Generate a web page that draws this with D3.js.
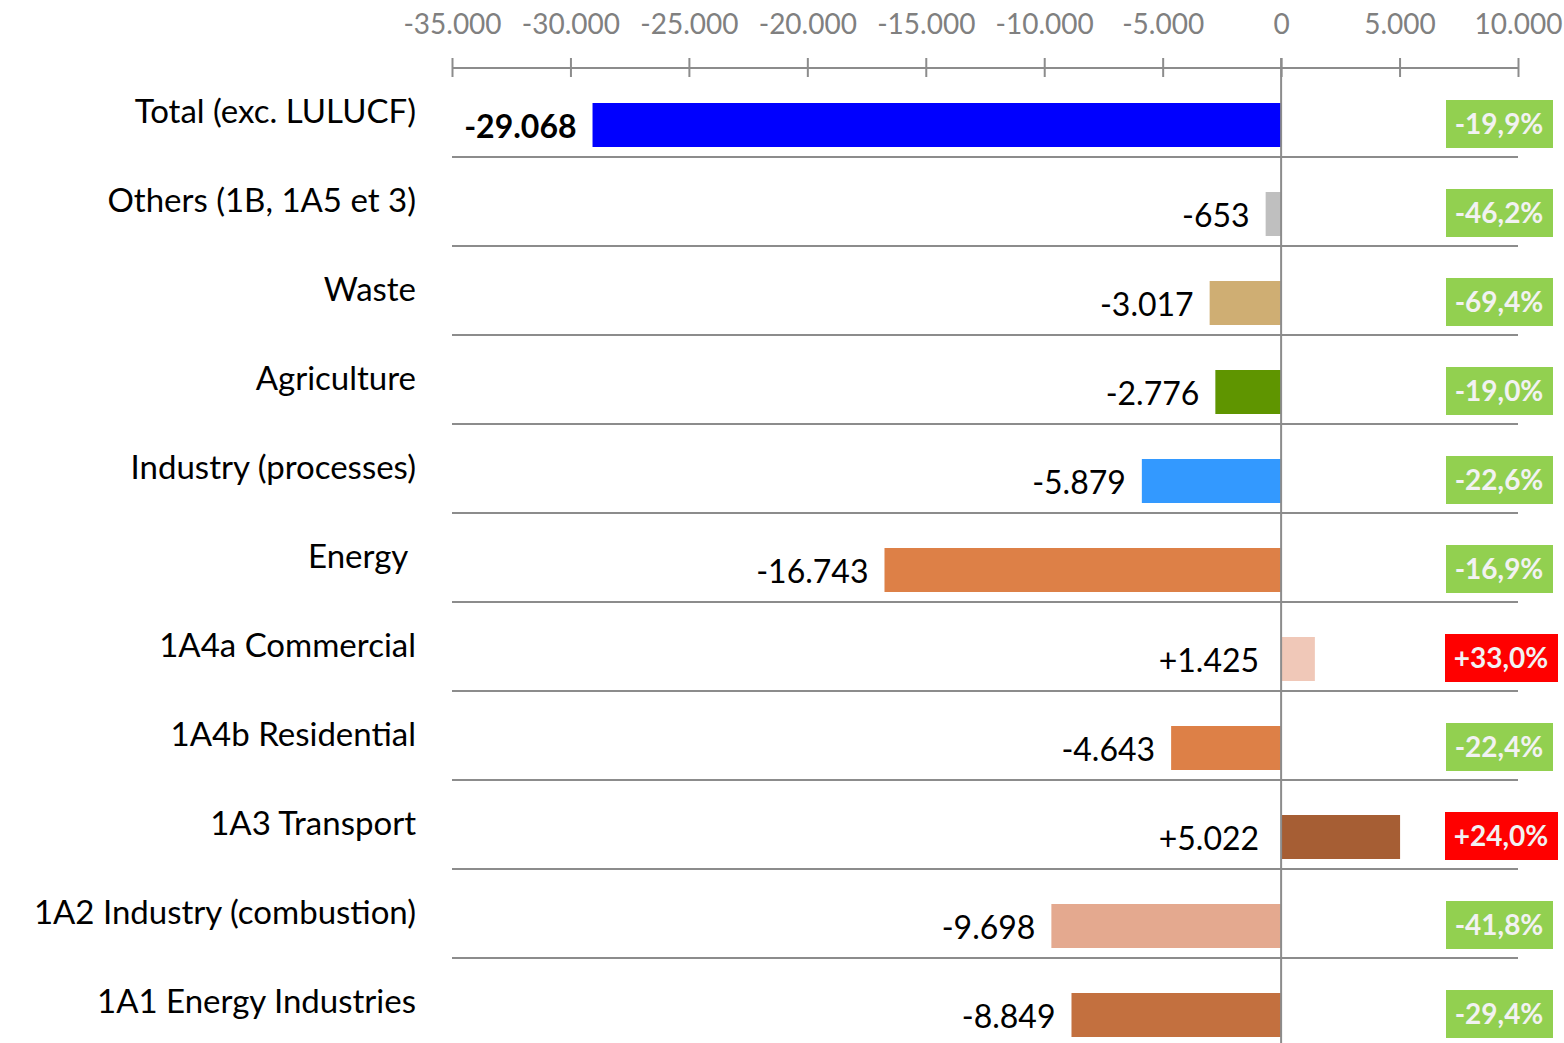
<!DOCTYPE html>
<html>
<head>
<meta charset="utf-8">
<script src="https://cdn.jsdelivr.net/npm/d3@7"></script>
<style>
  body { margin: 0; background: #fff; }
  svg text { font-family: Lato, "Open Sans", sans-serif; }
</style>
</head>
<body>
<div id="chart"></div>
<script>
// chart data
var categories = ["Total (exc. LULUCF)", "Others (1B, 1A5 et 3)", "Waste", "Agriculture",
  "Industry (processes)", "Energy ", "1A4a Commercial", "1A4b Residential",
  "1A3 Transport", "1A2 Industry (combustion)", "1A1 Energy Industries"];
var values = [-29068, -653, -3017, -2776, -5879, -16743, 1425, -4643, 5022, -9698, -8849];
var pctLabels = ["-19,9%", "-46,2%", "-69,4%", "-19,0%", "-22,6%", "-16,9%", "+33,0%",
  "-22,4%", "+24,0%", "-41,8%", "-29,4%"];
var barColors = ["#0000ff", "#bfbfbf", "#cfae73", "#5f9500", "#3399ff", "#dd8047",
  "#f0c8b8", "#dd8047", "#a65e34", "#e4a98f", "#c3703f"];
var xTicks = [-35000, -30000, -25000, -20000, -15000, -10000, -5000, 0, 5000, 10000];

var width = 1564, height = 1043;

var locale = d3.formatLocale({decimal: ",", thousands: ".", grouping: [3], currency: ["", "€"], minus: "-"});
var fmtTick = locale.format(",d");
var fmtVal = locale.format("+,d");

var x = d3.scaleLinear().domain([-35000, 10000]).range([452, 1518]);
var y = d3.scaleBand().domain(d3.range(categories.length)).range([68, 68 + 89 * categories.length]);

var svg = d3.select("#chart").append("svg")
  .attr("width", width)
  .attr("height", height);

// top axis
var xAxis = d3.axisTop(x).tickValues(xTicks).tickFormat(fmtTick).tickSize(10);
var ax = svg.append("g")
  .attr("transform", "translate(0,68)")
  .call(xAxis);
ax.select(".domain").attr("stroke", "#8c8c8c").attr("stroke-width", 2).attr("d", "M452,0H1518");
ax.selectAll(".tick line").attr("stroke", "#8c8c8c").attr("stroke-width", 2).attr("y1", -10).attr("y2", 9);
ax.selectAll(".tick text")
  .attr("y", -34).attr("dy", 0)
  .attr("fill", "#808080")
  .style("font-size", "28px");

// row separators
svg.append("g").selectAll("line")
  .data(d3.range(1, categories.length))
  .join("line")
  .attr("x1", 452).attr("x2", 1518)
  .attr("y1", function(i) { return y(i); })
  .attr("y2", function(i) { return y(i); })
  .attr("stroke", "#8c8c8c").attr("stroke-width", 2);

// bars
svg.append("g").selectAll("rect")
  .data(values)
  .join("rect")
  .attr("x", function(d) { return x(Math.min(0, d)); })
  .attr("width", function(d) { return Math.abs(x(d) - x(0)); })
  .attr("y", function(d, i) { return y(i) + 35; })
  .attr("height", 44)
  .attr("fill", function(d, i) { return barColors[i]; });

// zero line
svg.append("line")
  .attr("x1", x(0)).attr("x2", x(0))
  .attr("y1", 58).attr("y2", height)
  .attr("stroke", "#8c8c8c").attr("stroke-width", 2);

// category labels
svg.append("g").selectAll("text")
  .data(categories)
  .join("text")
  .attr("x", 416)
  .attr("y", function(d, i) { return y(i) + 55; })
  .attr("text-anchor", "end")
  .style("white-space", "pre")
  .style("font-size", "33px")
  .attr("fill", "#000")
  .text(function(d) { return d; });

// value labels
svg.append("g").selectAll("text")
  .data(values)
  .join("text")
  .attr("x", function(d) { return d < 0 ? x(d) - 16 : x(0) - 22; })
  .attr("y", function(d, i) { return y(i) + 70; })
  .attr("text-anchor", "end")
  .style("font-size", "32px")
  .style("font-weight", function(d, i) { return i === 0 ? "bold" : "normal"; })
  .attr("fill", "#000")
  .text(function(d) { return fmtVal(d).replace(/^\+(?=-)/, ""); });

// percent boxes
var pct = svg.append("g").selectAll("g")
  .data(pctLabels)
  .join("g");
pct.append("rect")
  .attr("x", function(d) { return d[0] === "+" ? 1445 : 1446; })
  .attr("width", function(d) { return d[0] === "+" ? 113 : 107; })
  .attr("y", function(d, i) { return y(i) + 32; })
  .attr("height", 48)
  .attr("fill", function(d) { return d[0] === "+" ? "#ff0000" : "#92d050"; });
pct.append("text")
  .attr("x", function(d) { return d[0] === "+" ? 1501 : 1499; })
  .attr("y", function(d, i) { return y(i) + 66; })
  .attr("text-anchor", "middle")
  .style("font-size", "28px")
  .style("font-weight", "bold")
  .attr("fill", "#f2f2f2")
  .text(function(d) { return d; });
</script>
</body>
</html>
